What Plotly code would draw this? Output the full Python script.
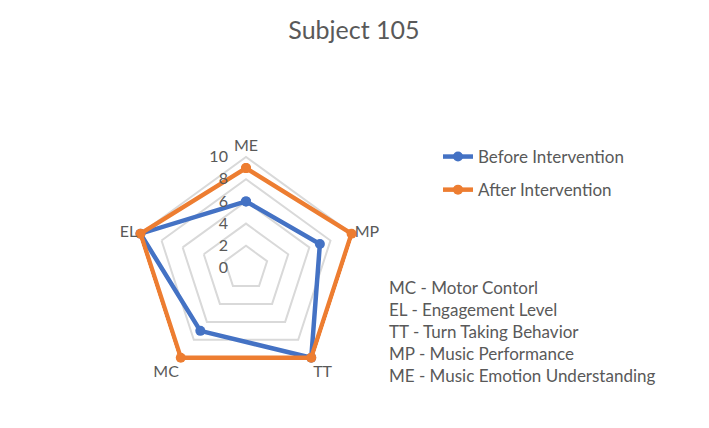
import plotly.graph_objects as go

categories = ["ME", "MP", "TT", "MC", "EL"]
before = [6, 7, 10, 7, 10]
after = [9, 10, 10, 10, 10]
definitions = [
    "MC - Motor Contorl",
    "EL - Engagement Level",
    "TT - Turn Taking Behavior",
    "MP - Music Performance",
    "ME - Music Emotion Understanding",
]
title_text = "Subject 105"

W, H = 709, 428
FONT = "Lato, Open Sans, sans-serif"
GRAY = "#595959"

RMAX = 10.25
cx, cy = 246, 268
R = 111 * RMAX / 10

fig = go.Figure()
for name, vals, col in [("Before Intervention", before, "#4472C4"),
                        ("After Intervention", after, "#ED7D31")]:
    fig.add_trace(go.Scatterpolar(
        r=vals + vals[:1], theta=categories + categories[:1],
        mode="lines+markers", name=name, legendgroup=name,
        line=dict(color=col, width=4.5),
        marker=dict(color=col, size=10),
        cliponaxis=False,
    ))

fig.update_layout(
    width=W, height=H,
    margin=dict(l=0, r=0, t=0, b=0),
    paper_bgcolor="white",
    font=dict(family=FONT, color=GRAY, size=17),
    title=dict(text=title_text, x=354 / W, xanchor="center", y=1 - 30 / H, yanchor="middle",
               font=dict(size=25, color=GRAY, family=FONT)),
    polar=dict(
        domain=dict(x=[(cx - R) / W, (cx + R) / W], y=[(H - cy - R) / H, (H - cy + R) / H]),
        gridshape="linear",
        bgcolor="white",
        angularaxis=dict(direction="clockwise", rotation=90, showline=False,
                         showgrid=False,
                         tickfont=dict(size=16, color=GRAY), ticks=""),
        radialaxis=dict(range=[0, RMAX], tickvals=[0, 2, 4, 6, 8, 10], angle=90, tickangle=90,
                        side="counterclockwise",
                        showline=False, gridcolor="#D9D9D9", gridwidth=1.5,
                        ticks="outside", ticklen=12, tickcolor="rgba(0,0,0,0)",
                        tickfont=dict(size=16, color=GRAY)),
    ),
    legend=dict(x=438 / W, y=1 - 139 / H, xanchor="left", yanchor="top",
                traceorder="grouped", tracegroupgap=8,
                font=dict(size=17, color=GRAY), bgcolor="rgba(0,0,0,0)"),
)

for i, t in enumerate(definitions):
    fig.add_annotation(text=t, xref="paper", yref="paper", x=387 / W, y=1 - (287 + 22 * i) / H,
                       xanchor="left", yanchor="middle", showarrow=False,
                       font=dict(size=17, color=GRAY, family=FONT))

fig.write_html("out.html")
